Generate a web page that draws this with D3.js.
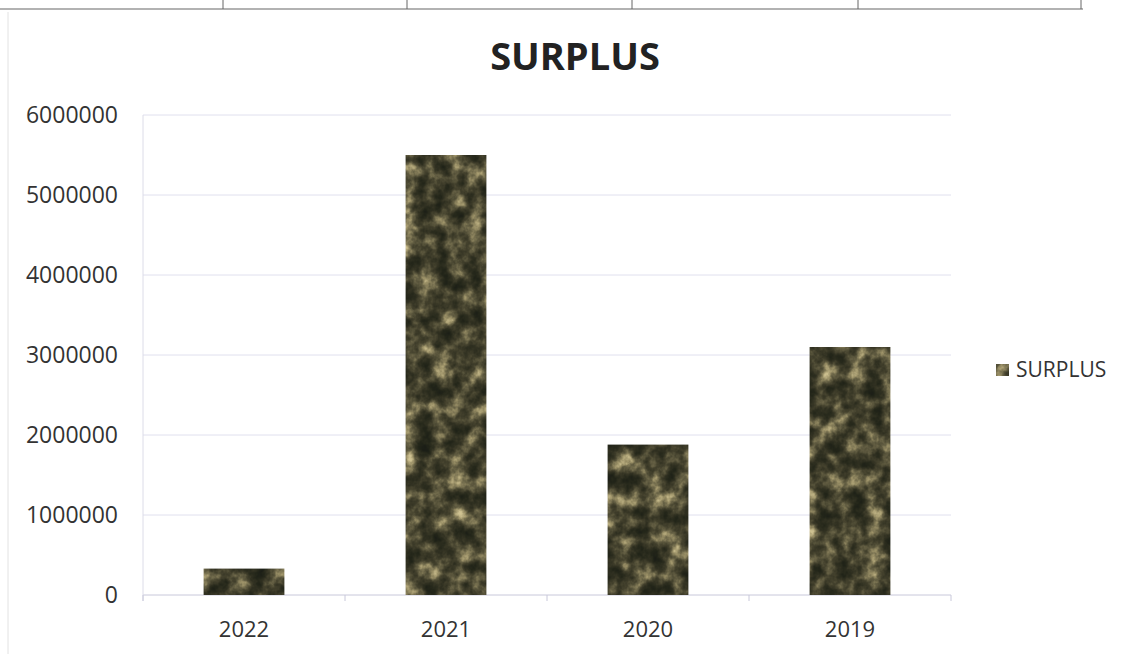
<!DOCTYPE html>
<html>
<head>
<meta charset="utf-8">
<script src="https://cdn.jsdelivr.net/npm/d3@7"></script>
<style>
  body { margin: 0; background: #fff; }
  svg { display: block; font-family: "Open Sans", "Noto Sans", sans-serif; }
</style>
</head>
<body>
<svg id="chart"></svg>
<script>
const width = 1125;
const height = 654;
const margin = { top: 115, right: 174, bottom: 58, left: 143 };

// data
const years = ["2022", "2021", "2020", "2019"];
const surplus = [330000, 5500000, 1880000, 3100000];
const yTicks = [0, 1000000, 2000000, 3000000, 4000000, 5000000, 6000000];
const seriesName = "SURPLUS";

const svg = d3.select("#chart")
    .attr("width", width)
    .attr("height", height);

// marble-ish texture for the bars
const defs = svg.append("defs");
const marble = defs.append("filter")
    .attr("id", "marble")
    .attr("color-interpolation-filters", "sRGB")
    .attr("x", 0).attr("y", 0).attr("width", 1).attr("height", 1);
marble.append("feTurbulence")
    .attr("type", "fractalNoise")
    .attr("baseFrequency", "0.06 0.055")
    .attr("numOctaves", 4)
    .attr("seed", 11)
    .attr("result", "noise");
marble.append("feColorMatrix")
    .attr("in", "noise")
    .attr("type", "matrix")
    .attr("values", "1 0 0 0 0  1 0 0 0 0  1 0 0 0 0  0 0 0 0 1")
    .attr("result", "grey");
const ct = marble.append("feComponentTransfer").attr("in", "grey").attr("result", "tint");
ct.append("feFuncR").attr("type", "table").attr("tableValues", "0.1 0.11 0.14 0.19 0.27 0.4 0.6 0.8 0.87");
ct.append("feFuncG").attr("type", "table").attr("tableValues", "0.11 0.12 0.15 0.19 0.26 0.38 0.56 0.75 0.81");
ct.append("feFuncB").attr("type", "table").attr("tableValues", "0.08 0.09 0.1 0.13 0.18 0.27 0.4 0.56 0.62");
marble.append("feComposite")
    .attr("in", "tint")
    .attr("in2", "SourceGraphic")
    .attr("operator", "in");

// table edge at the top of the scan
svg.append("line")
    .attr("x1", 0).attr("x2", 1083).attr("y1", 9).attr("y2", 9)
    .style("stroke", "#666").style("stroke-width", 1.2);
[223, 407, 632, 858, 1081].forEach(x => {
    svg.append("line")
        .attr("x1", x).attr("x2", x).attr("y1", 0).attr("y2", 9)
        .style("stroke", "#666").style("stroke-width", 1);
});
svg.append("line")
    .attr("x1", 8).attr("x2", 8).attr("y1", 12).attr("y2", height)
    .style("stroke", "#e2e2e2").style("stroke-width", 1);

const xScale = d3.scaleBand()
    .domain(years)
    .range([margin.left, width - margin.right])
    .paddingInner(0.6)
    .paddingOuter(0.3);

const yScale = d3.scaleLinear()
    .domain([0, 6000000])
    .range([height - margin.bottom - 1, margin.top]);

// gridlines
svg.append("g")
    .selectAll("line")
    .data(yTicks)
    .enter()
    .append("line")
    .attr("x1", margin.left)
    .attr("x2", width - margin.right)
    .attr("y1", d => yScale(d))
    .attr("y2", d => yScale(d))
    .style("stroke", d => d === 0 ? "#c8c8da" : "#e0e0ee")
    .style("stroke-width", 1);

// y axis line
svg.append("line")
    .attr("x1", margin.left).attr("x2", margin.left)
    .attr("y1", yScale(6000000)).attr("y2", yScale(0) + 6)
    .style("stroke", "#dcdce8");

// y tick labels
svg.append("g")
    .selectAll("text")
    .data(yTicks)
    .enter()
    .append("text")
    .attr("x", margin.left - 25)
    .attr("y", d => yScale(d))
    .attr("dy", "0.35em")
    .attr("text-anchor", "end")
    .style("font-size", "23px")
    .style("fill", "#333")
    .text(d => d);

// category boundary ticks
const bounds = d3.range(years.length + 1).map(i => margin.left + i * (width - margin.left - margin.right) / years.length);
svg.append("g")
    .selectAll("line")
    .data(bounds)
    .enter()
    .append("line")
    .attr("x1", d => d).attr("x2", d => d)
    .attr("y1", yScale(0)).attr("y2", yScale(0) + 6)
    .style("stroke", "#c8c8da");

// bars
svg.append("g")
    .selectAll("rect")
    .data(years)
    .enter()
    .append("rect")
    .attr("x", d => xScale(d))
    .attr("width", xScale.bandwidth())
    .attr("y", (d, i) => yScale(surplus[i]))
    .attr("height", (d, i) => yScale(0) - yScale(surplus[i]))
    .style("fill", "#4a4638")
    .attr("filter", "url(#marble)");

// x labels
svg.append("g")
    .selectAll("text")
    .data(years)
    .enter()
    .append("text")
    .attr("x", d => xScale(d) + xScale.bandwidth() / 2)
    .attr("y", yScale(0) + 42)
    .attr("text-anchor", "middle")
    .style("font-size", "22px")
    .style("fill", "#333")
    .text(d => d);

// title
svg.append("text")
    .attr("x", 575)
    .attr("y", 70)
    .attr("text-anchor", "middle")
    .style("font-size", "38px")
    .style("font-weight", "bold")
    .style("fill", "#222")
    .text(seriesName);

// legend
const legend = svg.append("g").attr("transform", "translate(996, 370)");
legend.append("rect")
    .attr("x", 0).attr("y", -6)
    .attr("width", 13).attr("height", 12)
    .style("fill", "#6a6450")
    .attr("filter", "url(#marble)");
legend.append("text")
    .attr("x", 20)
    .attr("y", 0)
    .attr("dy", "0.35em")
    .style("font-size", "21px")
    .style("fill", "#333")
    .text(seriesName);
</script>
</body>
</html>
